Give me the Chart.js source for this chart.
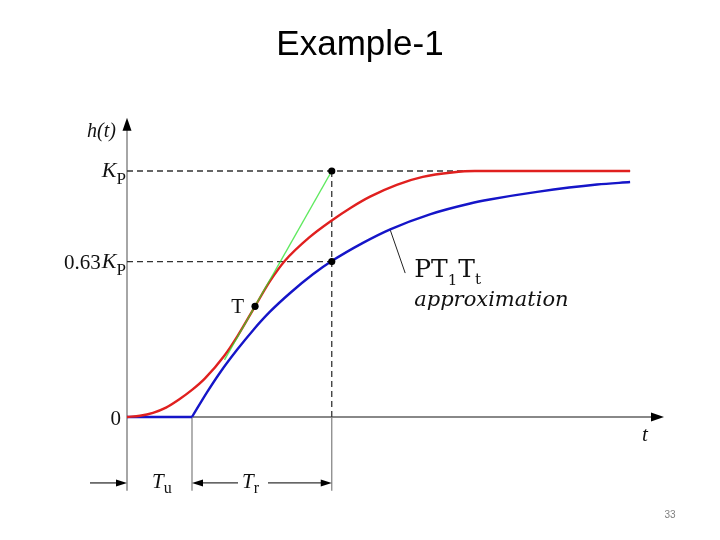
<!DOCTYPE html>
<html><head><meta charset="utf-8">
<script src="https://cdn.jsdelivr.net/npm/chart.js@4.4.0/dist/chart.umd.min.js"></script>
<style>html,body{margin:0;padding:0;background:#fff;}#wrap{position:relative;width:720px;height:540px;}</style>
</head><body><div id="wrap"><canvas id="c" width="720" height="540"></canvas></div>
<script>
// Red: actual step response h(t)  (t in units of Tu, value as fraction of K_P)
const redT = [0, 0.2, 0.4, 0.6, 0.8, 1.0, 1.2, 1.5, 1.7, 1.97, 2.2, 2.43, 2.8, 3.15, 3.45, 3.74, 4.15, 4.55, 5.0, 5.35, 6.0, 7.0, 7.74];
const redV = [0, 0.005, 0.017, 0.038, 0.071, 0.11, 0.157, 0.25, 0.329, 0.45, 0.552, 0.635, 0.729, 0.799, 0.852, 0.896, 0.944, 0.976, 0.994, 1.0, 1.0, 1.0, 1.0];
// Blue: PT1Tt approximation (dead time then first-order rise)
const blueT = [0, 1.0, 1.23, 1.43, 1.69, 1.94, 2.2, 2.51, 2.86, 3.15, 3.63, 4.05, 4.66, 5.28, 5.58, 6.31, 7.23, 7.74];
const blueV = [0, 0, 0.1, 0.18, 0.272, 0.353, 0.428, 0.504, 0.58, 0.634, 0.708, 0.763, 0.824, 0.868, 0.884, 0.915, 0.945, 0.955];
// Green: inflection tangent
const tangentT = [1.5, 3.15];
const tangentV = [0.232, 1.0];
// Marked points
const markT = [3.15, 3.15, 1.97];
const markV = [1.0, 0.632, 0.45];
// Key positions
const Tu = 1.0, TuTr = 3.15, Kp = 1.0, K63 = 0.632, tEnd = 7.74, tAxisEnd = 8.2, vAxisEnd = 1.2, dimV = -0.268, belowV = -0.3;
const leaderT = [4.05, 4.28];
const leaderV = [0.76, 0.585];
const yLabels = ["0", "0.63", "K", "P"];

const pts = (ts, vs) => ts.map((t, i) => ({x: t, y: vs[i]}));

const dash = [6, 4];
const datasets = [
  {data: pts(markT, markV), showLine: false, pointRadius: 3.6, pointBackgroundColor: '#000', pointBorderWidth: 0, order: 0},
  {data: pts(tangentT, tangentV), showLine: true, borderColor: 'rgba(40,225,40,0.75)', borderWidth: 1.4, pointRadius: 0, order: 1},
  {data: pts(redT, redV), showLine: true, borderColor: '#e0201f', borderWidth: 2.4, pointRadius: 0, cubicInterpolationMode: 'monotone', order: 2},
  {data: pts(blueT.slice(0, 2), blueV.slice(0, 2)), showLine: true, borderColor: '#1515c8', borderWidth: 2.4, pointRadius: 0, order: 3},
  {data: pts(blueT.slice(1), blueV.slice(1)), showLine: true, borderColor: '#1515c8', borderWidth: 2.4, pointRadius: 0, cubicInterpolationMode: 'monotone', order: 3},
  {data: pts(leaderT, leaderV), showLine: true, borderColor: '#222', borderWidth: 1, pointRadius: 0, order: 4},
  {data: pts([0, tEnd], [Kp, Kp]), showLine: true, borderColor: '#333', borderWidth: 1.3, borderDash: dash, pointRadius: 0, order: 5},
  {data: pts([0, TuTr], [K63, K63]), showLine: true, borderColor: '#333', borderWidth: 1.3, borderDash: dash, pointRadius: 0, order: 5},
  {data: pts([TuTr, TuTr], [Kp, 0]), showLine: true, borderColor: '#333', borderWidth: 1.3, borderDash: dash, pointRadius: 0, order: 5},
  {data: pts([TuTr, TuTr], [0, belowV]), showLine: true, borderColor: '#888', borderWidth: 1.3, pointRadius: 0, order: 6},
  {data: pts([Tu, Tu], [0, belowV]), showLine: true, borderColor: '#888', borderWidth: 1.3, pointRadius: 0, order: 6},
  {data: pts([0, 0], [belowV, vAxisEnd]), showLine: true, borderColor: '#888', borderWidth: 1.5, pointRadius: 0, order: 6},
  {data: pts([0, tAxisEnd], [0, 0]), showLine: true, borderColor: '#888', borderWidth: 1.8, pointRadius: 0, order: 6}
];

function tri(ctx, x, y, dir, len, hw) {
  ctx.beginPath();
  if (dir === 'up') { ctx.moveTo(x, y); ctx.lineTo(x - hw, y + len); ctx.lineTo(x + hw, y + len); }
  if (dir === 'right') { ctx.moveTo(x, y); ctx.lineTo(x - len, y - hw); ctx.lineTo(x - len, y + hw); }
  if (dir === 'left') { ctx.moveTo(x, y); ctx.lineTo(x + len, y - hw); ctx.lineTo(x + len, y + hw); }
  ctx.closePath(); ctx.fill();
}
function sub(ctx, main, s, x, y, mainFont, subFont, dy, align) {
  ctx.font = mainFont; const w1 = ctx.measureText(main).width;
  ctx.font = subFont; const w2 = ctx.measureText(s).width;
  let x0 = align === 'right' ? x - w1 - w2 : x;
  ctx.textAlign = 'left';
  ctx.font = mainFont; ctx.fillText(main, x0, y);
  ctx.font = subFont; ctx.fillText(s, x0 + w1, y + dy);
  return x0;
}

const SERIF = '"Liberation Serif", "DejaVu Serif", serif';
const annot = {
  id: 'annot',
  afterDraw(chart) {
    const ctx = chart.ctx, xs = chart.scales.x, ys = chart.scales.y;
    const X = v => xs.getPixelForValue(v), Y = v => ys.getPixelForValue(v);
    ctx.save();
    ctx.fillStyle = '#000';
    // axis arrowheads
    tri(ctx, X(0), Y(vAxisEnd) - 4, 'up', 13, 4.5);
    tri(ctx, X(tAxisEnd) + 4, Y(0), 'right', 13, 4.5);
    // dimension lines
    const yd = Y(dimV);
    ctx.strokeStyle = '#333'; ctx.lineWidth = 1.3;
    ctx.beginPath(); ctx.moveTo(X(0) - 37, yd); ctx.lineTo(X(0) - 8, yd); ctx.stroke();
    tri(ctx, X(0), yd, 'right', 11, 3.5);
    ctx.beginPath(); ctx.moveTo(X(Tu) + 8, yd); ctx.lineTo(X(Tu) + 46, yd); ctx.stroke();
    tri(ctx, X(Tu), yd, 'left', 11, 3.5);
    ctx.beginPath(); ctx.moveTo(X(Tu) + 76, yd); ctx.lineTo(X(TuTr) - 8, yd); ctx.stroke();
    tri(ctx, X(TuTr), yd, 'right', 11, 3.5);
    // texts
    ctx.fillStyle = '#111';
    ctx.textBaseline = 'alphabetic';
    ctx.font = 'italic 20px ' + SERIF; ctx.textAlign = 'right';
    ctx.fillText('h(t)', X(0) - 11, Y(vAxisEnd) + 15);
    sub(ctx, yLabels[2], yLabels[3], X(0) - 1, Y(Kp) + 6, 'italic 22px ' + SERIF, '17px ' + SERIF, 7, 'right');
    const x0 = sub(ctx, yLabels[2], yLabels[3], X(0) - 1, Y(K63) + 6, 'italic 22px ' + SERIF, '17px ' + SERIF, 7, 'right');
    ctx.font = '21px ' + SERIF; ctx.textAlign = 'right';
    ctx.fillText(yLabels[1], x0 - 1, Y(K63) + 7);
    ctx.fillText(yLabels[0], X(0) - 6, Y(0) + 8);
    ctx.font = 'italic 21px ' + SERIF; ctx.textAlign = 'left';
    ctx.fillText('t', X(tAxisEnd) - 18, Y(0) + 24);
    ctx.font = '21px ' + SERIF; ctx.textAlign = 'right';
    ctx.fillText('T', X(markT[2]) - 11, Y(markV[2]) + 7);
    sub(ctx, 'T', 'u', X(Tu) - 40, yd + 5, 'italic 21px ' + SERIF, '16px ' + SERIF, 5, 'left');
    sub(ctx, 'T', 'r', X(Tu) + 50, yd + 5, 'italic 21px ' + SERIF, '16px ' + SERIF, 5, 'left');
    // PT1Tt approximation
    const px = X(leaderT[1]) + 9, py = Y(leaderV[1]) + 4;
    ctx.font = '25px "DejaVu Serif", serif'; ctx.textAlign = 'left';
    ctx.fillText('PT', px, py);
    let w = ctx.measureText('PT').width;
    ctx.font = '15px "DejaVu Serif", serif'; ctx.fillText('1', px + w, py + 8);
    w += ctx.measureText('1').width + 1;
    ctx.font = '25px "DejaVu Serif", serif'; ctx.fillText('T', px + w, py);
    w += ctx.measureText('T').width;
    ctx.font = '15px "DejaVu Serif", serif'; ctx.fillText('t', px + w, py + 7);
    ctx.font = 'italic 21px "DejaVu Serif", serif';
    ctx.fillText('approximation', px, py + 29);
    // slide title & number
    ctx.fillStyle = '#000';
    ctx.font = '35px "Liberation Sans", Arial, sans-serif'; ctx.textAlign = 'center';
    ctx.fillText('Example-1', 360, 55);
    ctx.fillStyle = '#808080';
    ctx.font = '10px "Liberation Sans", sans-serif'; ctx.textAlign = 'center';
    ctx.fillText('33', 670, 518);
    ctx.restore();
  }
};

new Chart(document.getElementById('c'), {
  type: 'scatter',
  data: {datasets},
  options: {
    responsive: false, animation: false,
    layout: {autoPadding: false, padding: {left: 62, right: 8, top: 72.6, bottom: 0}},
    plugins: {legend: {display: false}, tooltip: {enabled: false}},
    scales: {
      x: {type: 'linear', min: -1, max: 9, display: false},
      y: {type: 'linear', min: -0.5, max: 1.4, display: false}
    },
    elements: {line: {fill: false}}
  },
  plugins: [annot]
});
</script></body></html>
